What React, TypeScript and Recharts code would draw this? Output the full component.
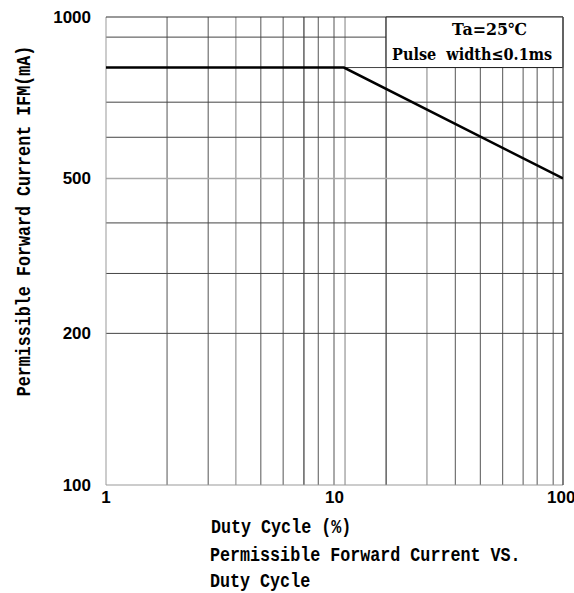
import { LineChart, Line, XAxis, YAxis, ReferenceLine, ReferenceArea } from 'recharts';

// curve
const dutyCycle = [1, 11, 100];
const forwardCurrent = [800, 800, 500];

// axes
const xTicks = [1, 10, 100];
const yTicks = [100, 200, 500, 1000];
const xGridValues = [1.85, 2.8, 3.7, 4.76, 5.96, 7.35, 8.49, 9.95, 11.12, 16.82, 25.38, 33.78, 43.47, 54.45, 66.91, 77.07, 90.57];
const yGridValues = [200, 300, 400, 500, 600, 700, 800, 900];

// the printed y axis is not a true log scale: share of the axis height at each printed value
const yScaleValues = [100, 200, 300, 400, 500, 600, 700, 800, 900, 1000];
const yScaleShares = [0, 0.324, 0.452, 0.56, 0.655, 0.743, 0.818, 0.892, 0.957, 1];

const darkX = [7.35, 16.82];
const lightX = [3.7, 11.12, 25.38];
const lightY = [500];

function toAxis(v: number) {
  for (let i = 0; i < yScaleValues.length - 1; i++) {
    const a = yScaleValues[i];
    const b = yScaleValues[i + 1];
    if (v <= b || i === yScaleValues.length - 2) {
      const t = (Math.log(v) - Math.log(a)) / (Math.log(b) - Math.log(a));
      return yScaleShares[i] + t * (yScaleShares[i + 1] - yScaleShares[i]);
    }
  }
  return 0;
}

const data = dutyCycle.map((d, i) => ({ duty: d, current: toAxis(forwardCurrent[i]) }));

const tickStyle = { fontFamily: '"Liberation Sans", Arial, sans-serif', fontWeight: 700, fontSize: 17, fill: '#000' };
const titleFont = '"Liberation Mono", "Courier New", monospace';

function xGridColor(v: number) {
  if (darkX.includes(v)) return '#111';
  if (lightX.includes(v)) return '#aaa';
  return '#555';
}

function renderBoxLabel(props: any) {
  const { x, y } = props.viewBox;
  return (
    <g fontFamily='"DejaVu Serif", serif' fontWeight={700} fontSize={16.5} fill="#000">
      <text x={x + 66} y={y + 18} textLength={75} lengthAdjust="spacingAndGlyphs">Ta=25℃</text>
      <text x={x + 6} y={y + 43} xmlSpace="preserve" textLength={160} lengthAdjust="spacingAndGlyphs">Pulse  width≤0.1ms</text>
    </g>
  );
}

export default function App() {
  return (
    <div style={{ position: 'absolute', left: 0, top: 0, background: '#fff' }}>
      <LineChart width={574} height={593} data={data} margin={{ top: 17, right: 11, bottom: 78, left: 16 }}>
        <XAxis
          dataKey="duty"
          type="number"
          scale="log"
          domain={[1, 100]}
          ticks={xTicks}
          allowDataOverflow
          axisLine={false}
          tickLine={false}
          tickSize={0}
          tickMargin={6}
          height={30}
          tick={tickStyle}
        />
        <YAxis
          type="number"
          domain={[0, 1]}
          ticks={yTicks.map(toAxis)}
          tickFormatter={(v: number) => String(yTicks.find((t) => Math.abs(toAxis(t) - v) < 1e-6) ?? '')}
          allowDataOverflow
          axisLine={false}
          tickLine={false}
          tickSize={0}
          tickMargin={15}
          width={90}
          tick={tickStyle}
        />
        {xGridValues.map((v) => (
          <ReferenceLine key={'x' + v} x={v} stroke={xGridColor(v)} strokeWidth={lightX.includes(v) ? 1.5 : 1} zIndex={50} />
        ))}
        {yGridValues.map((v) => (
          <ReferenceLine
            key={'y' + v}
            y={toAxis(v)}
            stroke={lightY.includes(v) ? '#aaa' : '#444'}
            strokeWidth={lightY.includes(v) ? 1.5 : 1}
            zIndex={50}
          />
        ))}
        <ReferenceLine x={1} stroke="#999" zIndex={50} />
        <ReferenceLine y={0} stroke="#999" zIndex={50} />
        <ReferenceLine y={1} stroke="#333" zIndex={50} />
        <ReferenceArea
          x1={16.82}
          x2={100}
          y1={toAxis(800)}
          y2={1}
          fill="#fff"
          fillOpacity={1}
          stroke="#222"
          strokeWidth={1}
          zIndex={150}
          label={renderBoxLabel}
        />
        <ReferenceLine x={100} stroke="#555" strokeWidth={1.5} zIndex={160} />
        <Line type="linear" dataKey="current" stroke="#000" strokeWidth={2.6} dot={false} isAnimationActive={false} />
        <g fontFamily={titleFont} fontWeight={700} fontSize={16.7} fill="#000">
          <text transform="translate(30,221) rotate(-90) scale(1,1.2)" textAnchor="middle">
            Permissible Forward Current IFM(mA)
          </text>
          <text transform="translate(211,533) scale(1,1.2)">Duty Cycle (%)</text>
          <text transform="translate(210,561) scale(1,1.2)">Permissible Forward Current VS.</text>
          <text transform="translate(210,587) scale(1,1.2)">Duty Cycle</text>
        </g>
      </LineChart>
    </div>
  );
}
